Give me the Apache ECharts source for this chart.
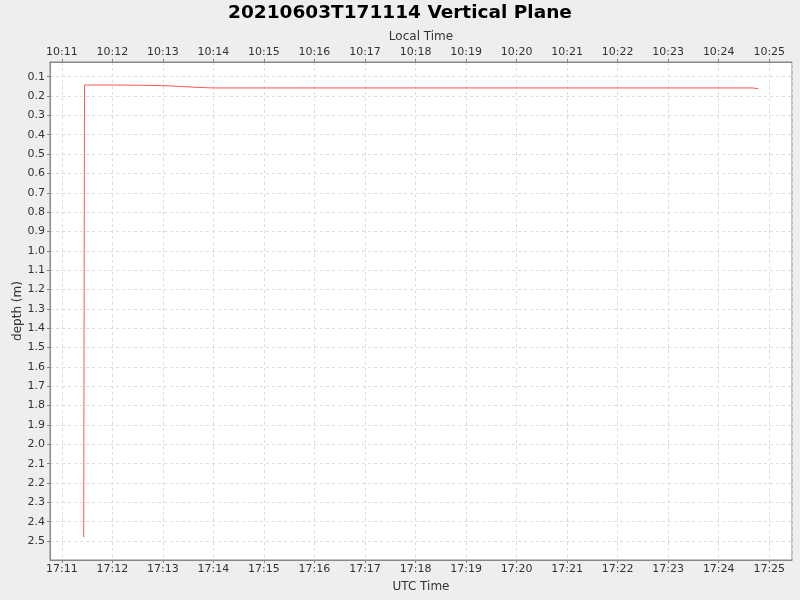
<!DOCTYPE html>
<html lang="en">
<head>
  <meta charset="UTF-8">
  <title>20210603T171114 Vertical Plane</title>
  <script src="https://cdn.jsdelivr.net/npm/echarts@6/dist/echarts.min.js"></script>
</head>
<body style="margin:0;background:#eeeeee;">
<div id="main" style="width: 800px;height:600px;"></div>
<script type="text/javascript">

// UTC sample times and depth (m)
var utcTimes = ['17:11:26', '17:11:27', '17:12:00', '17:12:30', '17:13:00', '17:13:20',
                '17:13:40', '17:14:00', '17:24:40', '17:24:47'];
var depths = [2.48, 0.143, 0.143, 0.144, 0.146, 0.150, 0.155, 0.158, 0.158, 0.162];
var utcRange = ['17:10:46', '17:25:27'];
var depthRange = [0.024, 2.598];
var localOffsetHours = -7;

function toMinutes(s) {
  var p = s.split(':');
  return +p[0] * 60 + +p[1] + +p[2] / 60;
}
function fmtHM(v, offset) {
  var m = Math.round(v) + offset * 60;
  m = ((m % 1440) + 1440) % 1440;
  var h = Math.floor(m / 60), mm = m % 60;
  return h + ':' + (mm < 10 ? '0' : '') + mm;
}

var points = utcTimes.map(function (t, i) { return [toMinutes(t), depths[i]]; });

var myChart = echarts.init(document.getElementById('main'));

var labelFont = { fontFamily: 'DejaVu Sans', fontSize: 11, color: '#333' };
var nameFont = { fontFamily: 'DejaVu Sans', fontSize: 12, color: '#333' };
var gridLine = { show: true, lineStyle: { color: '#dddddd', type: [3, 3], width: 1 } };

function xAxisDef(pos, name, offset, gap) {
  return {
    type: 'value',
    position: pos,
    name: name,
    nameLocation: 'middle',
    nameGap: gap,
    nameMoveOverlap: false,
    nameTextStyle: nameFont,
    min: toMinutes(utcRange[0]),
    max: toMinutes(utcRange[1]),
    splitNumber: 15,
    minInterval: 1,
    maxInterval: 1,
    axisLine: { show: true, onZero: false, lineStyle: { color: '#888' } },
    axisTick: { show: true, length: 3, lineStyle: { color: '#888' } },
    axisLabel: Object.assign({
      margin: 4,
      showMinLabel: false,
      showMaxLabel: false,
      formatter: function (v) { return fmtHM(v, offset); }
    }, labelFont),
    splitLine: pos === 'bottom' ? gridLine : { show: false }
  };
}

var option = {
  backgroundColor: '#eeeeee',
  animation: false,
  title: {
    text: '20210603T171114 Vertical Plane',
    left: 'center',
    top: 4,
    padding: 0,
    textStyle: { fontFamily: 'DejaVu Sans', fontSize: 18.5, fontWeight: 'bold', color: '#000' }
  },
  grid: {
    left: 50, right: 8, top: 62, bottom: 40,
    show: true, backgroundColor: '#ffffff', borderColor: '#888', borderWidth: 1
  },
  xAxis: [
    xAxisDef('bottom', 'UTC Time', 0, 21),
    xAxisDef('top', 'Local Time', localOffsetHours, 19)
  ],
  yAxis: {
    type: 'value',
    inverse: true,
    name: 'depth (m)',
    nameLocation: 'middle',
    nameGap: 26,
    nameMoveOverlap: false,
    nameTextStyle: nameFont,
    min: depthRange[0],
    max: depthRange[1],
    splitNumber: 25,
    minInterval: 0.1,
    maxInterval: 0.1,
    axisLine: { show: true, lineStyle: { color: '#888' } },
    axisTick: { show: true, length: 3, lineStyle: { color: '#888' } },
    axisLabel: Object.assign({
      margin: 5,
      showMinLabel: false,
      showMaxLabel: false,
      formatter: function (v) { return v.toFixed(1); }
    }, labelFont),
    splitLine: gridLine
  },
  series: [{
    type: 'line',
    xAxisIndex: 0,
    data: points,
    showSymbol: false,
    lineStyle: { color: '#ff5555', width: 1 },
    itemStyle: { color: '#ff5555' }
  }]
};

myChart.setOption(option);

</script>
</body>
</html>
